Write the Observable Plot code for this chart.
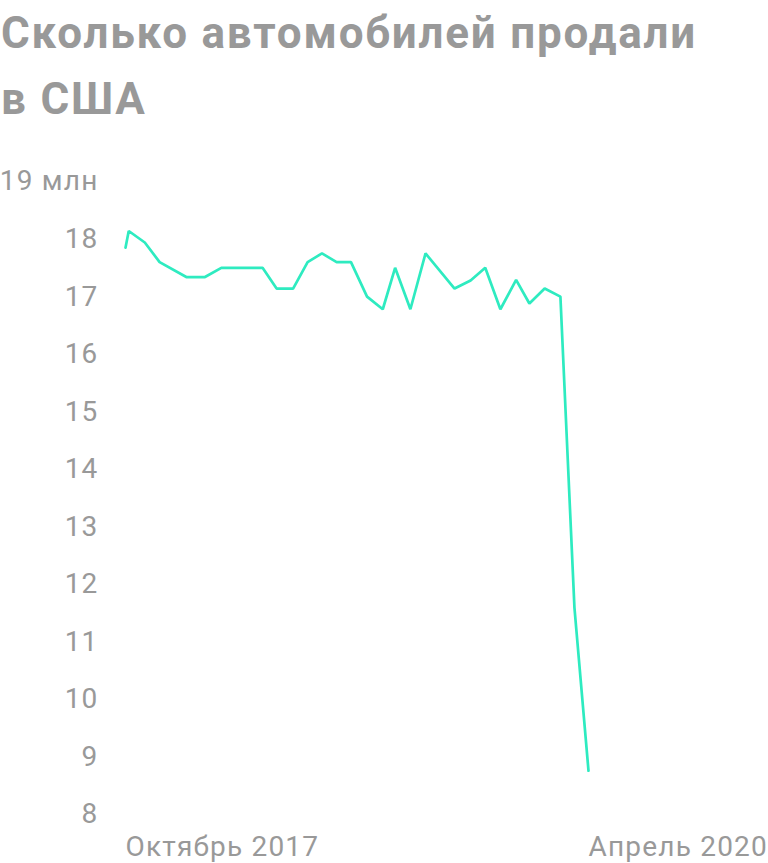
<!DOCTYPE html>
<html>
<head>
<meta charset="utf-8">
<script src="https://cdn.jsdelivr.net/npm/d3@7"></script>
<script src="https://cdn.jsdelivr.net/npm/@observablehq/plot@0.6"></script>
<style>
  html, body { margin: 0; padding: 0; background: #fff; }
  #title { font-family: Roboto, sans-serif; font-weight: 700; font-size: 44px; line-height: 66px; color: #999; padding-left: 1px; height: 140px; letter-spacing: 1.8px; white-space: nowrap; }
</style>
</head>
<body>
<div id="title">Сколько автомобилей продали<br>в США</div>
<div id="chart"></div>
<script>
// months since October 2017 (fractional positions)
const months = [0, 0.21, 1.25, 2.21, 3.94, 5.15, 6.21, 8.88, 9.79, 10.86, 11.8, 12.73, 13.68, 14.61, 15.65, 16.67, 17.47, 18.46, 19.44, 21.32, 22.36, 23.31, 24.29, 25.31, 26.17, 27.16, 28.18, 29.09, 30];
// sales, million units (annualized)
const sales = [17.85, 18.14, 17.94, 17.6, 17.34, 17.34, 17.5, 17.5, 17.14, 17.14, 17.6, 17.75, 17.6, 17.6, 17.0, 16.78, 17.5, 16.78, 17.75, 17.14, 17.28, 17.5, 16.78, 17.29, 16.88, 17.14, 17.0, 11.59, 8.76];
const xTicks = [0, 30];
const xTickLabels = ["Октябрь 2017", "Апрель 2020"];
const yTicks = [8, 9, 10, 11, 12, 13, 14, 15, 16, 17, 18, 19];

const data = months.map((m, i) => ({m, v: sales[i]}));

const chart = Plot.plot({
  width: 768,
  height: 723,
  marginLeft: 125,
  marginRight: 180,
  marginTop: 41,
  marginBottom: 49,
  style: {fontFamily: "Roboto, sans-serif", fontSize: "28px", color: "#999", background: "#fff", overflow: "visible", letterSpacing: "1.2px"},
  x: {domain: [0, 30]},
  y: {domain: [8, 19]},
  marks: [
    Plot.axisY({ticks: yTicks, tickSize: 0, tickPadding: 27, label: null,
      tickFormat: d => d === 19 ? "19 млн" : String(d)}),
    Plot.axisX({ticks: xTicks, tickSize: 0, tickPadding: 22, label: null, textAnchor: "start",
      tickFormat: d => xTickLabels[xTicks.indexOf(d)]}),
    Plot.line(data, {x: "m", y: "v", stroke: "#2EEBC0", strokeWidth: 2.7, strokeLinejoin: "miter"})
  ]
});
document.getElementById("chart").appendChild(chart);
</script>
</body>
</html>
